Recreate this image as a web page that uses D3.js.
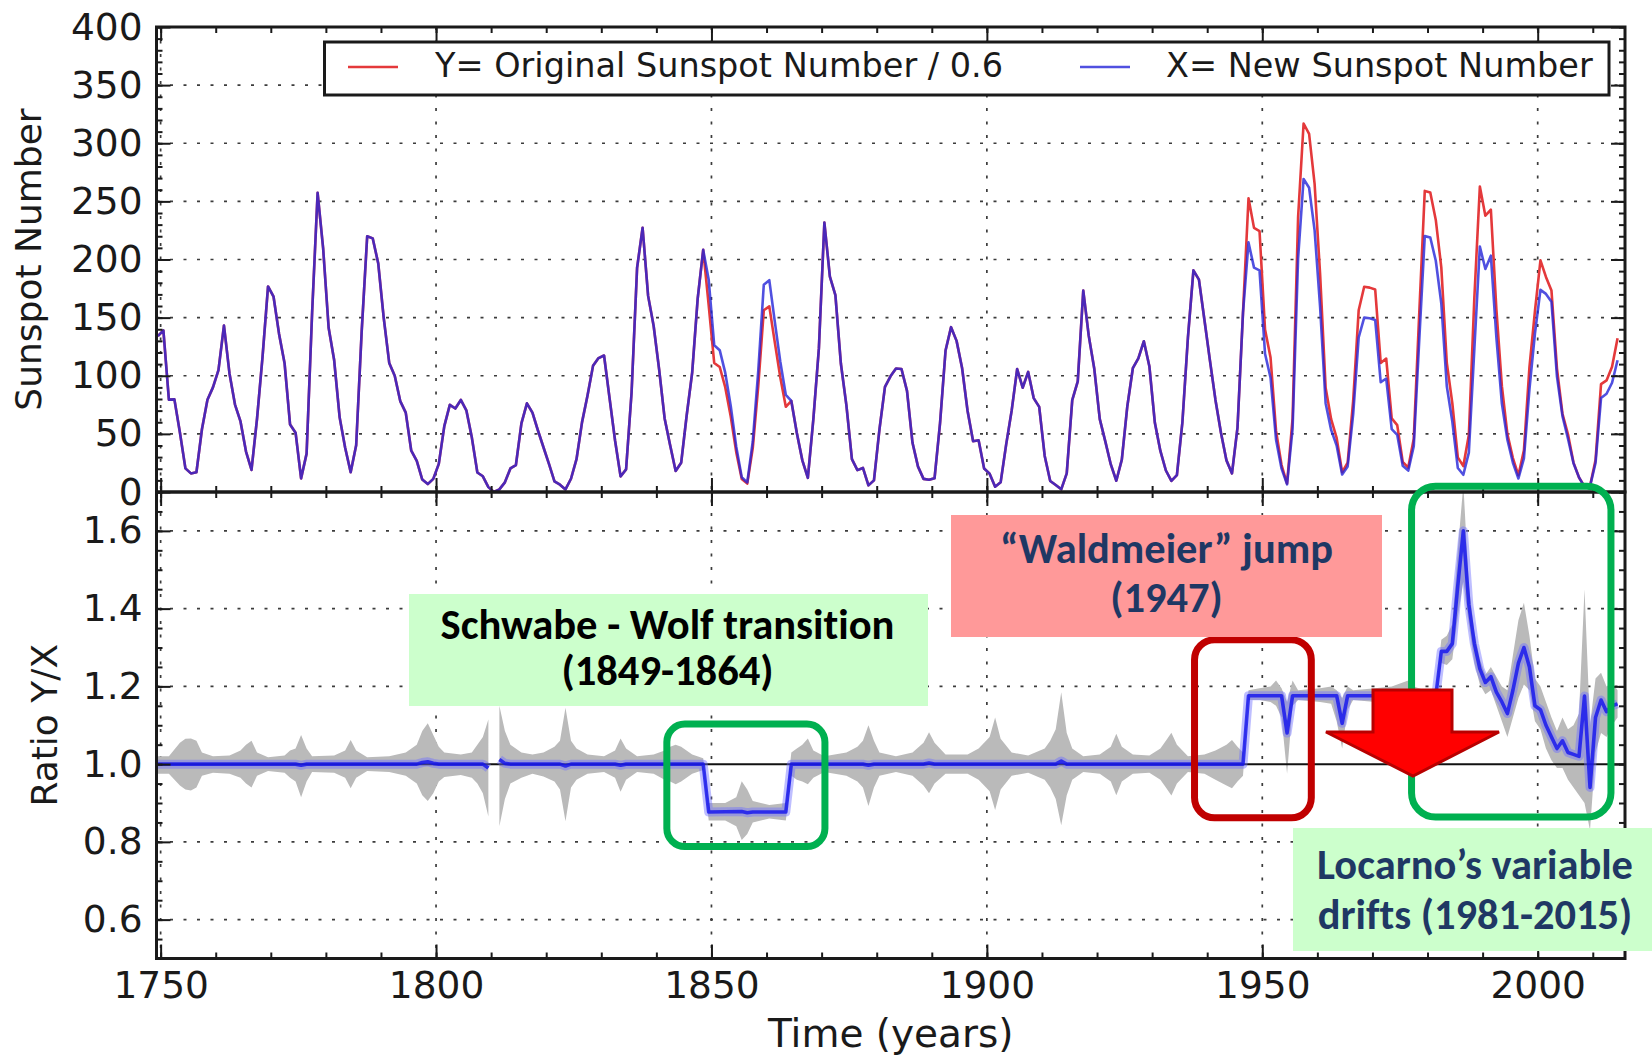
<!DOCTYPE html>
<html>
<head>
<meta charset="utf-8">
<script src="https://cdn.jsdelivr.net/npm/d3@7"></script>
<style>
  body { margin: 0; background: #ffffff; }
  svg { display: block; }
  .note { font-variant-ligatures: none; font-feature-settings: "liga" 0; }
</style>
</head>
<body>
<svg id="chart" width="1652" height="1055"></svg>
<script>
// ---------------------------------------------------------------
// Yearly sunspot numbers, one value per year starting at firstYear
// (plotted at mid-year).
// ---------------------------------------------------------------
const firstYear = 1749;

// X = new (recalibrated) sunspot number
const newSunspot = [
  134.0, 139.0, 79.5, 79.7, 51.2, 20.3, 16.0, 17.0, 54.0, 79.3,
  90.0, 104.8, 143.2, 102.0, 75.2, 60.7, 34.8, 19.0, 63.0, 116.3,
  176.8, 168.0, 136.0, 110.8, 58.0, 51.0, 11.7, 33.0, 154.2, 257.3,
  209.8, 141.3, 113.5, 64.2, 38.0, 17.0, 40.2, 138.2, 220.0, 218.2,
  196.8, 149.8, 111.0, 100.0, 78.2, 68.3, 35.5, 26.7, 10.7, 6.8,
  11.3, 24.2, 56.7, 75.0, 71.8, 79.2, 70.3, 46.8, 16.8, 13.5,
  4.2, 0.0, 2.3, 8.3, 20.3, 23.2, 59.0, 76.3, 68.3, 52.9,
  38.5, 24.2, 9.2, 6.3, 2.2, 11.4, 28.2, 59.9, 83.0, 108.5,
  115.2, 117.4, 80.8, 44.3, 13.4, 19.5, 85.8, 192.9, 227.3, 168.7,
  143.0, 105.5, 63.3, 40.3, 18.1, 25.1, 65.8, 102.7, 166.3, 208.3,
  182.5, 126.3, 122.0, 102.7, 74.1, 39.0, 12.7, 8.2, 43.4, 104.4,
  178.3, 182.2, 146.6, 112.1, 83.5, 78.3, 50.8, 27.2, 12.2, 62.7,
  123.3, 231.7, 185.3, 169.3, 110.3, 74.5, 28.3, 18.8, 20.7, 5.7,
  10.0, 53.8, 90.5, 99.5, 106.2, 105.8, 87.0, 42.3, 21.8, 11.3,
  10.5, 11.8, 59.3, 121.7, 141.8, 130.0, 106.7, 69.7, 43.7, 44.5,
  20.2, 15.8, 4.5, 8.3, 40.7, 70.0, 105.8, 89.7, 103.3, 80.8,
  73.2, 31.0, 9.5, 6.0, 2.3, 16.0, 79.0, 95.2, 173.2, 134.3,
  106.0, 62.7, 43.5, 23.7, 9.7, 27.8, 73.8, 106.5, 115.0, 129.7,
  108.2, 59.5, 35.3, 18.5, 9.5, 14.5, 60.2, 132.8, 190.7, 182.7,
  148.0, 113.0, 79.2, 51.0, 27.2, 16.0, 55.3, 154.3, 214.7, 193.0,
  190.7, 118.9, 98.3, 45.0, 20.1, 6.6, 54.2, 200.7, 269.3, 261.7,
  225.1, 159.0, 76.4, 53.4, 39.9, 15.0, 22.0, 66.8, 132.9, 150.0,
  149.4, 148.0, 94.4, 97.6, 54.1, 49.2, 22.5, 18.4, 39.3, 131.0,
  220.1, 218.9, 198.9, 162.4, 91.0, 60.5, 20.6, 14.8, 33.9, 123.0,
  211.1, 191.8, 203.3, 133.0, 76.1, 44.9, 25.1, 11.6, 28.9, 88.3,
  136.3, 173.9, 170.4, 163.6, 99.3, 65.3, 45.8, 24.7, 12.6, 4.2,
  4.8, 24.9, 80.8, 84.5, 94.0, 113.3
];

// Y = original (Wolf/Zurich) sunspot number divided by 0.6
const originalOver06 = [
  134.0, 139.0, 79.5, 79.7, 51.2, 20.3, 16.0, 17.0, 54.0, 79.3,
  90.0, 104.8, 143.2, 102.0, 75.2, 60.7, 34.8, 19.0, 63.0, 116.3,
  176.8, 168.0, 136.0, 110.8, 58.0, 51.0, 11.7, 33.0, 154.2, 257.3,
  209.8, 141.3, 113.5, 64.2, 38.0, 17.0, 40.2, 138.2, 220.0, 218.2,
  196.8, 149.8, 111.0, 100.0, 78.2, 68.3, 35.5, 26.7, 10.7, 6.8,
  11.3, 24.2, 56.7, 75.0, 71.8, 79.2, 70.3, 46.8, 16.8, 13.5,
  4.2, 0.0, 2.3, 8.3, 20.3, 23.2, 59.0, 76.3, 68.3, 52.9,
  38.5, 24.2, 9.2, 6.3, 2.2, 11.4, 28.2, 59.9, 83.0, 108.5,
  115.2, 117.4, 80.8, 44.3, 13.4, 19.5, 85.8, 192.9, 227.3, 168.7,
  143.0, 105.5, 63.3, 40.3, 18.1, 25.1, 65.8, 102.7, 166.3, 208.3,
  160.5, 111.0, 107.5, 90.2, 65.0, 34.3, 11.2, 7.2, 37.8, 91.3,
  156.3, 159.7, 128.7, 98.5, 73.3, 78.3, 50.8, 27.2, 12.2, 62.7,
  123.3, 231.7, 185.3, 169.3, 110.3, 74.5, 28.3, 18.8, 20.7, 5.7,
  10.0, 53.8, 90.5, 99.5, 106.2, 105.8, 87.0, 42.3, 21.8, 11.3,
  10.5, 11.8, 59.3, 121.7, 141.8, 130.0, 106.7, 69.7, 43.7, 44.5,
  20.2, 15.8, 4.5, 8.3, 40.7, 70.0, 105.8, 89.7, 103.3, 80.8,
  73.2, 31.0, 9.5, 6.0, 2.3, 16.0, 79.0, 95.2, 173.2, 134.3,
  106.0, 62.7, 43.5, 23.7, 9.7, 27.8, 73.8, 106.5, 115.0, 129.7,
  108.2, 59.5, 35.3, 18.5, 9.5, 14.5, 60.2, 132.8, 190.7, 182.7,
  148.0, 113.0, 79.2, 51.0, 27.2, 16.0, 55.3, 154.3, 252.7, 227.2,
  224.5, 139.8, 115.7, 52.5, 23.2, 7.3, 63.3, 236.2, 317.0, 308.0,
  265.0, 187.2, 89.8, 62.7, 46.5, 17.0, 25.2, 78.3, 156.3, 176.5,
  175.8, 174.2, 111.0, 114.8, 63.3, 57.5, 25.8, 21.0, 45.8, 154.2,
  259.0, 257.7, 234.0, 193.2, 111.0, 76.5, 29.8, 22.3, 49.0, 167.0,
  262.7, 237.7, 242.8, 157.2, 91.0, 49.8, 29.2, 14.3, 35.8, 107.2,
  155.5, 199.3, 185.0, 173.3, 106.2, 67.3, 49.7, 25.3, 12.5, 4.8,
  5.2, 27.5, 92.8, 96.0, 107.8, 132.2
];

// Ratio Y/X (calendar year -> ratio; null where X is zero)
const ratioYears = [
  1749, 1774, 1775, 1776, 1796, 1797, 1798, 1799, 1800, 1808, 1809, 1810, 1811, 1812, 1813,
  1822, 1823, 1824, 1832, 1833, 1834, 1848, 1849, 1855, 1856, 1857, 1863, 1864,
  1877, 1878, 1879, 1888, 1889, 1890, 1912, 1913, 1914, 1946, 1947, 1953, 1954, 1955,
  1963, 1964, 1965, 1981, 1982, 1983, 1984, 1985, 1986, 1987, 1988, 1989, 1990, 1991,
  1992, 1993, 1994, 1995, 1996, 1997, 1998, 1999, 2000, 2001, 2002, 2003, 2004, 2005,
  2006, 2007, 2008, 2009, 2010, 2011, 2012, 2013, 2014
];
const ratioValues = [
  1.0, 1.0, 0.997, 1.0, 1.0, 1.004, 1.006, 1.002, 1.0, 1.0, 0.99, null, 1.012, 1.002, 1.0,
  1.0, 0.995, 1.0, 1.0, 0.997, 1.0, 1.0, 0.877, 0.878, 0.875, 0.877, 0.877, 1.0,
  1.0, 0.997, 1.0, 1.0, 1.003, 1.0, 1.0, 1.008, 1.0, 1.0, 1.176, 1.176, 1.08, 1.176,
  1.176, 1.105, 1.176, 1.176, 1.29, 1.29, 1.31, 1.46, 1.60, 1.41, 1.31, 1.245, 1.21, 1.225,
  1.185, 1.16, 1.13, 1.19, 1.26, 1.30, 1.25, 1.15, 1.14, 1.10, 1.07, 1.04, 1.06, 1.03,
  1.025, 1.02, 1.175, 0.94, 1.12, 1.165, 1.135, 1.15, 1.155
];

// Uncertainty band of the ratio (upper / lower bound)
const bandYears = [
  1749, 1751, 1753, 1754, 1755, 1756, 1757, 1759, 1762, 1764, 1765, 1766, 1767, 1769,
  1772, 1773, 1774, 1775, 1776, 1777, 1781, 1783, 1784, 1785, 1787, 1791, 1794, 1796,
  1797, 1798, 1799, 1800, 1801, 1804, 1806, 1807, 1808, 1809, 1810, 1811, 1812, 1813,
  1815, 1817, 1819, 1821, 1822, 1823, 1824, 1825, 1827, 1830, 1832, 1833, 1834, 1836,
  1839, 1841, 1842, 1843, 1844, 1846, 1848, 1849, 1852, 1854, 1855, 1856, 1857, 1860,
  1863, 1864, 1865, 1866, 1867, 1868, 1870, 1874, 1876, 1877, 1878, 1879, 1880, 1883,
  1886, 1888, 1889, 1890, 1892, 1896, 1898, 1900, 1901, 1902, 1904, 1907, 1910, 1911,
  1912, 1913, 1914, 1915, 1917, 1920, 1922, 1923, 1924, 1926, 1929, 1931, 1932, 1933,
  1934, 1936, 1939, 1941, 1943, 1944, 1945, 1946, 1947, 1949, 1951, 1952, 1953, 1954,
  1955, 1956, 1960, 1962, 1963, 1964, 1965, 1966, 1970, 1973, 1975, 1976, 1977, 1979,
  1981, 1982, 1983, 1984, 1985, 1986, 1987, 1988, 1989, 1990, 1991, 1992, 1993, 1994,
  1995, 1996, 1997, 1998, 1999, 2000, 2001, 2002, 2003, 2004, 2005, 2006, 2007, 2008,
  2009, 2010, 2011, 2012, 2013, 2014
];
const bandUpper = [
  1.02, 1.02, 1.055, 1.065, 1.066, 1.06, 1.03, 1.02, 1.022, 1.035, 1.05, 1.06, 1.03, 1.018,
  1.022, 1.035, 1.04, 1.075, 1.04, 1.02, 1.022, 1.035, 1.062, 1.035, 1.018, 1.02, 1.03, 1.05,
  1.085, 1.105, 1.075, 1.045, 1.03, 1.025, 1.03, 1.05, 1.07, 1.115, null, 1.15, 1.085, 1.05,
  1.03, 1.025, 1.03, 1.045, 1.06, 1.145, 1.06, 1.04, 1.025, 1.02, 1.035, 1.066, 1.04, 1.02,
  1.025, 1.035, 1.045, 1.05, 1.045, 1.025, 1.015, 0.90, 0.90, 0.915, 0.956, 0.935, 0.905, 0.895,
  0.90, 1.03, 1.04, 1.05, 1.066, 1.035, 1.02, 1.03, 1.045, 1.06, 1.10, 1.06, 1.03, 1.02,
  1.03, 1.055, 1.082, 1.055, 1.025, 1.025, 1.04, 1.07, 1.12, 1.065, 1.03, 1.022, 1.04, 1.06,
  1.09, 1.185, 1.08, 1.04, 1.02, 1.025, 1.045, 1.078, 1.045, 1.025, 1.022, 1.04, 1.06, 1.081,
  1.05, 1.02, 1.025, 1.035, 1.05, 1.062, 1.045, 1.03, 1.19, 1.195, 1.20, 1.215, 1.195, 1.16,
  1.215, 1.19, 1.195, 1.20, 1.19, 1.17, 1.20, 1.19, 1.195, 1.20, 1.21, 1.215, 1.20, 1.19,
  1.19, 1.32, 1.33, 1.36, 1.55, 1.72, 1.46, 1.34, 1.27, 1.23, 1.25, 1.225, 1.20, 1.19,
  1.28, 1.37, 1.415, 1.33, 1.22, 1.20, 1.16, 1.12, 1.085, 1.12, 1.09, 1.10, 1.13, 1.45,
  1.10, 1.22, 1.235, 1.20, 1.21, 1.19
];
const bandLower = [
  0.975, 0.975, 0.945, 0.935, 0.932, 0.94, 0.97, 0.978, 0.975, 0.965, 0.95, 0.94, 0.97, 0.982,
  0.978, 0.965, 0.955, 0.915, 0.955, 0.98, 0.978, 0.965, 0.938, 0.965, 0.982, 0.98, 0.97, 0.95,
  0.92, 0.905, 0.925, 0.955, 0.967, 0.972, 0.965, 0.95, 0.925, 0.865, null, 0.84, 0.91, 0.95,
  0.965, 0.975, 0.968, 0.955, 0.935, 0.853, 0.94, 0.96, 0.975, 0.98, 0.965, 0.929, 0.96, 0.98,
  0.975, 0.96, 0.955, 0.948, 0.955, 0.975, 0.985, 0.855, 0.855, 0.84, 0.805, 0.82, 0.85, 0.86,
  0.855, 0.97, 0.96, 0.955, 0.948, 0.965, 0.98, 0.97, 0.955, 0.94, 0.892, 0.94, 0.97, 0.98,
  0.97, 0.945, 0.925, 0.95, 0.975, 0.975, 0.96, 0.93, 0.882, 0.935, 0.97, 0.978, 0.96, 0.94,
  0.91, 0.843, 0.92, 0.96, 0.98, 0.975, 0.955, 0.92, 0.955, 0.975, 0.978, 0.96, 0.94, 0.919,
  0.95, 0.98, 0.975, 0.96, 0.945, 0.938, 0.955, 0.97, 1.165, 1.165, 1.16, 1.15, 1.12, 0.975,
  1.15, 1.165, 1.16, 1.155, 1.11, 1.04, 1.14, 1.165, 1.16, 1.155, 1.14, 1.135, 1.15, 1.163,
  1.162, 1.26, 1.255, 1.27, 1.38, 1.47, 1.36, 1.26, 1.205, 1.18, 1.19, 1.15, 1.11, 1.07,
  1.12, 1.17, 1.205, 1.19, 1.11, 1.09, 1.04, 1.01, 0.99, 0.99, 0.96, 0.94, 0.92, 0.90,
  0.83, 1.03, 1.08, 1.07, 1.10, 1.12
];

// Axis ticks
const sunspotTicks = [0, 50, 100, 150, 200, 250, 300, 350, 400];
const ratioTicks = [0.6, 0.8, 1.0, 1.2, 1.4, 1.6];
const yearTicks = [1750, 1800, 1850, 1900, 1950, 2000];

// Series labels and annotation texts
const seriesLabels = ['Y= Original Sunspot Number / 0.6', 'X= New Sunspot Number'];
const schwabeLines = ['Schwabe - Wolf transition', '(1849-1864)'];
const waldmeierLines = ['\u201cWaldmeier\u201d jump', '(1947)'];
const locarnoLines = ['Locarno\u2019s variable', 'drifts (1981-2015)'];

// ---------------------------------------------------------------
// Layout
// ---------------------------------------------------------------
const svg = d3.select('#chart');
const plotLeft = 156.5, plotRight = 1625;
const topY = 27, midY = 492, bottomY = 958.5;
const RED = '#e4393b', BLUE = '#2424d8';
const INK = '#1a1a1a';
const TICK_FONT = "'DejaVu Sans', sans-serif";
const NOTE_FONT = "Carlito, Lato, 'Open Sans', sans-serif";

const x = d3.scaleLinear().domain([1749.25, 2015.85]).range([plotLeft, plotRight]);
const yTop = d3.scaleLinear().domain([0, 400]).range([midY, topY]);
const yRat = d3.scaleLinear().domain([0.5, 1.7]).range([bottomY, midY]);

const years = d3.range(firstYear, firstYear + newSunspot.length);

const defs = svg.append('defs');
defs.append('clipPath').attr('id', 'clipTop').append('rect')
  .attr('x', plotLeft).attr('y', topY).attr('width', plotRight - plotLeft).attr('height', midY - topY);
defs.append('clipPath').attr('id', 'clipRatio').append('rect')
  .attr('x', plotLeft).attr('y', midY).attr('width', plotRight - plotLeft).attr('height', bottomY - midY);

// ---------- dotted grid ----------
const grid = svg.append('g')
  .attr('stroke', '#3c3c3c').attr('stroke-width', 1.7).attr('stroke-dasharray', '3,10.5');
grid.selectAll('line.vx').data(yearTicks).join('line').attr('class', 'vx')
  .attr('x1', d => x(d)).attr('x2', d => x(d)).attr('y1', topY).attr('y2', bottomY);
grid.selectAll('line.hs').data(sunspotTicks.filter(d => d > 0 && d < 400)).join('line').attr('class', 'hs')
  .attr('x1', plotLeft).attr('x2', plotRight).attr('y1', d => yTop(d)).attr('y2', d => yTop(d));
grid.selectAll('line.hr').data(ratioTicks.filter(d => d !== 1.0)).join('line').attr('class', 'hr')
  .attr('x1', plotLeft).attr('x2', plotRight).attr('y1', d => yRat(d)).attr('y2', d => yRat(d));

// ---------- top panel: sunspot series ----------
const topG = svg.append('g').attr('clip-path', 'url(#clipTop)');
const seriesLine = d3.line().x((d, i) => x(years[i] + 0.5)).y(d => yTop(d));
topG.append('path').datum(originalOver06)
  .attr('d', seriesLine).attr('fill', 'none').attr('stroke', RED)
  .attr('stroke-width', 2.6).attr('stroke-linejoin', 'round');
topG.append('path').datum(newSunspot)
  .attr('d', seriesLine).attr('fill', 'none').attr('stroke', BLUE).attr('stroke-opacity', 0.8)
  .attr('stroke-width', 2.6).attr('stroke-linejoin', 'round');

// ---------- bottom panel: ratio with uncertainty band ----------
const ratG = svg.append('g').attr('clip-path', 'url(#clipRatio)');
const band = bandYears.map((yr, i) => ({ year: yr, hi: bandUpper[i], lo: bandLower[i] }));
ratG.append('path').datum(band)
  .attr('d', d3.area().defined(d => d.hi != null)
    .x(d => x(d.year + 0.5)).y0(d => yRat(d.lo)).y1(d => yRat(d.hi)))
  .attr('fill', '#bababa');

ratG.append('line')
  .attr('x1', plotLeft).attr('x2', plotRight).attr('y1', yRat(1)).attr('y2', yRat(1))
  .attr('stroke', '#111').attr('stroke-width', 2);

const ratio = ratioYears.map((yr, i) => ({ year: yr, v: ratioValues[i] }));
const ratioLine = d3.line().defined(d => d.v != null).x(d => x(d.year + 0.5)).y(d => yRat(d.v));
ratG.append('path').datum(ratio).attr('d', ratioLine)
  .attr('fill', 'none').attr('stroke', '#6f6fff').attr('stroke-opacity', 0.45)
  .attr('stroke-width', 9).attr('stroke-linejoin', 'round');
ratG.append('path').datum(ratio).attr('d', ratioLine)
  .attr('fill', 'none').attr('stroke', '#1212ee').attr('stroke-opacity', 0.8)
  .attr('stroke-width', 3.6).attr('stroke-linejoin', 'round');

// ---------- axes (inward ticks) ----------
function styleAxis(g, labelled) {
  g.select('.domain').remove();
  g.selectAll('.tick line').attr('stroke', INK).attr('stroke-width', 2);
  if (labelled) {
    g.selectAll('.tick text').attr('font-family', TICK_FONT).attr('font-size', 37.5).attr('fill', INK);
  } else {
    g.selectAll('.tick text').remove();
  }
}
const minorYears = d3.range(1750, 2016, 10);
const minorSun = d3.range(0, 401, 10);
const minorRat = d3.range(0.5, 1.7001, 0.05);

// y axes, top panel
svg.append('g').attr('transform', `translate(${plotLeft},0)`)
  .call(d3.axisLeft(yTop).tickValues(minorSun).tickSizeInner(-6).tickSizeOuter(0)).call(g => styleAxis(g, false));
svg.append('g').attr('transform', `translate(${plotLeft},0)`)
  .call(d3.axisLeft(yTop).tickValues(sunspotTicks).tickFormat(d3.format('d'))
    .tickSizeInner(-14).tickSizeOuter(0).tickPadding(14)).call(g => styleAxis(g, true));
svg.append('g').attr('transform', `translate(${plotRight},0)`)
  .call(d3.axisRight(yTop).tickValues(minorSun).tickSizeInner(-6).tickSizeOuter(0)).call(g => styleAxis(g, false));
svg.append('g').attr('transform', `translate(${plotRight},0)`)
  .call(d3.axisRight(yTop).tickValues(sunspotTicks).tickSizeInner(-14).tickSizeOuter(0)).call(g => styleAxis(g, false));

// y axes, ratio panel
svg.append('g').attr('transform', `translate(${plotLeft},0)`)
  .call(d3.axisLeft(yRat).tickValues(minorRat).tickSizeInner(-6).tickSizeOuter(0)).call(g => styleAxis(g, false));
svg.append('g').attr('transform', `translate(${plotLeft},0)`)
  .call(d3.axisLeft(yRat).tickValues(ratioTicks).tickFormat(d3.format('.1f'))
    .tickSizeInner(-14).tickSizeOuter(0).tickPadding(14)).call(g => styleAxis(g, true));
svg.append('g').attr('transform', `translate(${plotRight},0)`)
  .call(d3.axisRight(yRat).tickValues(minorRat).tickSizeInner(-6).tickSizeOuter(0)).call(g => styleAxis(g, false));
svg.append('g').attr('transform', `translate(${plotRight},0)`)
  .call(d3.axisRight(yRat).tickValues(ratioTicks).tickSizeInner(-14).tickSizeOuter(0)).call(g => styleAxis(g, false));

// x ticks on the top frame, both sides of the shared divider, and the bottom
[[d3.axisTop, topY], [d3.axisTop, midY], [d3.axisBottom, midY]].forEach(([axisFn, yPos]) => {
  svg.append('g').attr('transform', `translate(0,${yPos})`)
    .call(axisFn(x).tickValues(minorYears).tickSizeInner(-6).tickSizeOuter(0)).call(g => styleAxis(g, false));
  svg.append('g').attr('transform', `translate(0,${yPos})`)
    .call(axisFn(x).tickValues(yearTicks).tickSizeInner(-14).tickSizeOuter(0)).call(g => styleAxis(g, false));
});
svg.append('g').attr('transform', `translate(0,${bottomY})`)
  .call(d3.axisBottom(x).tickValues(minorYears).tickSizeInner(-6).tickSizeOuter(0)).call(g => styleAxis(g, false));
svg.append('g').attr('transform', `translate(0,${bottomY})`)
  .call(d3.axisBottom(x).tickValues(yearTicks).tickFormat(d3.format('d'))
    .tickSizeInner(-14).tickSizeOuter(0).tickPadding(13)).call(g => styleAxis(g, true));

// panel frames
svg.append('rect').attr('x', plotLeft).attr('y', topY)
  .attr('width', plotRight - plotLeft).attr('height', midY - topY)
  .attr('fill', 'none').attr('stroke', INK).attr('stroke-width', 3);
svg.append('rect').attr('x', plotLeft).attr('y', midY)
  .attr('width', plotRight - plotLeft).attr('height', bottomY - midY)
  .attr('fill', 'none').attr('stroke', INK).attr('stroke-width', 3);

// axis titles
svg.append('text').attr('transform', `translate(41,${(topY + midY) / 2}) rotate(-90)`)
  .attr('text-anchor', 'middle').attr('font-family', TICK_FONT).attr('font-size', 36)
  .attr('fill', INK).text('Sunspot Number');
svg.append('text').attr('transform', `translate(57,${(midY + bottomY) / 2}) rotate(-90)`)
  .attr('text-anchor', 'middle').attr('font-family', TICK_FONT).attr('font-size', 36)
  .attr('fill', INK).text('Ratio Y/X');
svg.append('text').attr('x', (plotLeft + plotRight) / 2).attr('y', 1047)
  .attr('text-anchor', 'middle').attr('font-family', TICK_FONT).attr('font-size', 39)
  .attr('fill', INK).text('Time (years)');

// ---------- legend ----------
const legend = svg.append('g');
legend.append('rect').attr('x', 324.5).attr('y', 42).attr('width', 1284.5).attr('height', 53)
  .attr('fill', '#ffffff').attr('stroke', INK).attr('stroke-width', 3);
const legendItems = [
  { label: seriesLabels[0], color: RED, x0: 348, tx: 435 },
  { label: seriesLabels[1], color: BLUE, x0: 1080, tx: 1166 }
];
legend.selectAll('line.key').data(legendItems).join('line').attr('class', 'key')
  .attr('x1', d => d.x0).attr('x2', d => d.x0 + 50).attr('y1', 67).attr('y2', 67)
  .attr('stroke', d => d.color).attr('stroke-opacity', (d, i) => i === 1 ? 0.8 : 1).attr('stroke-width', 2.6);
legend.selectAll('text.key').data(legendItems).join('text').attr('class', 'key')
  .attr('x', d => d.tx).attr('y', 76.5).attr('font-family', TICK_FONT).attr('font-size', 33.5)
  .attr('fill', INK).text(d => d.label);

// ---------- annotations ----------
const notes = svg.append('g');

// highlight frames around the three calibration episodes
const frames = [
  { x0: 1841.9, x1: 1870.6, yHi: 1.103, yLo: 0.788, color: '#00b050', r: 18 },
  { x0: 1937.7, x1: 1958.9, yHi: 1.32, yLo: 0.862, color: '#c00000', r: 20 },
  { x0: 1977.1, x1: 2013.3, yHi: 1.715, yLo: 0.864, color: '#00b050', r: 24 }
];
notes.selectAll('rect.frame').data(frames).join('rect').attr('class', 'frame')
  .attr('x', d => x(d.x0)).attr('y', d => yRat(d.yHi))
  .attr('width', d => x(d.x1) - x(d.x0)).attr('height', d => yRat(d.yLo) - yRat(d.yHi))
  .attr('rx', d => d.r).attr('fill', 'none').attr('stroke', d => d.color).attr('stroke-width', 7);

// downward arrow from the Waldmeier level
notes.append('path')
  .attr('d', 'M1373,690 L1452,690 L1452,732 L1499,732 L1413,776 L1326,732 L1373,732 Z')
  .attr('fill', '#ff0000').attr('stroke', '#b80000').attr('stroke-width', 3).attr('stroke-linejoin', 'miter');

function labelBox(lines, box, cx, baselines, targetWidth, color) {
  const g = notes.append('g');
  g.append('rect').attr('x', box[0]).attr('y', box[1]).attr('width', box[2]).attr('height', box[3])
    .attr('fill', box[4]);
  const texts = g.selectAll('text').data(lines).join('text').attr('class', 'note')
    .attr('x', cx).attr('y', (d, i) => baselines[i]).attr('text-anchor', 'middle')
    .attr('font-family', NOTE_FONT).attr('font-weight', 700).attr('font-size', 40)
    .attr('fill', color).text(d => d);
  const w = texts.node().getComputedTextLength();
  texts.attr('font-size', 40 * targetWidth / w);
}
labelBox(schwabeLines, [409, 594, 519, 112, '#ccffcc'], 667.5, [639, 685], 454, '#000000');
labelBox(waldmeierLines, [951, 515, 431, 122, '#ff9999'], 1166.5, [563, 612], 333, '#1f3864');
labelBox(locarnoLines, [1293, 828, 359, 123, '#ccffcc'], 1475, [878.5, 929], 316, '#1f3864');
</script>
</body>
</html>
